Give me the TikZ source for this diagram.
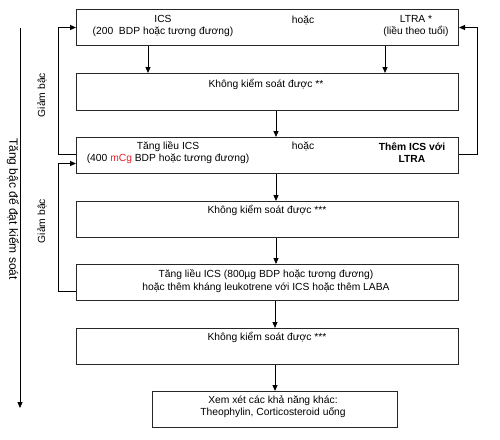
\documentclass[tikz,border=0pt]{standalone}
\usepackage{fontspec}
\setmainfont{Liberation Sans}
\usetikzlibrary{arrows.meta}
\begin{document}
\begin{tikzpicture}[x=1pt,y=-1pt,
  box/.style={draw=black!85,line width=1pt,rectangle,inner sep=0pt,anchor=north west},
  txt/.style={inner sep=0pt,align=center,font=\fontsize{10.3}{12.5}\selectfont},
  arr/.style={draw=black,line width=1pt,-{Triangle[length=6pt,width=5pt]}},
  ln/.style={draw=black!85,line width=1pt}]
\useasboundingbox (0,0) rectangle (500,439);
\fill[white] (0,0) rectangle (500,439);
% boxes
\node[box,minimum width=382pt,minimum height=36pt] (b1) at (76,9) {};
\node[box,minimum width=382pt,minimum height=37pt] (b2) at (76,73) {};
\node[box,minimum width=382pt,minimum height=36pt] (b3) at (76,137) {};
\node[box,minimum width=382pt,minimum height=36pt] (b4) at (76,201) {};
\node[box,minimum width=382pt,minimum height=36pt] (b5) at (76,264) {};
\node[box,minimum width=382pt,minimum height=36pt] (b6) at (76,328) {};
\node[box,minimum width=245pt,minimum height=36pt] (b7) at (152,391) {};
% texts
\node[txt] (t1a) at (163,26) {ICS\\(200\ \ BDP hoặc tương đương)};
\node[txt] (t1b) at (303,20) {hoặc};
\node[txt] (t1c) at (416,26) {LTRA *\\(liều theo tuổi)};
\node[txt] (t2) at (266,84) {Không kiểm soát được **};
\node[txt] (t3a) at (168,152.5) {Tăng liều ICS\\(400 \textcolor[HTML]{E8202A}{mCg} BDP hoặc tương đương)};
\node[txt] (t3b) at (303,146) {hoặc};
\node[txt,font=\fontsize{10.3}{12.5}\selectfont\bfseries] (t3c) at (412,152.5) {Thêm ICS với\\LTRA};
\node[txt] (t4) at (267,210) {Không kiểm soát được ***};
\node[txt] (t5) at (266,281) {Tăng liều ICS (800µg BDP hoặc tương đương)\\hoặc thêm kháng leukotrene với ICS hoặc thêm LABA};
\node[txt] (t6) at (267,337) {Không kiểm soát được ***};
\node[txt] (t7) at (273,406.5) {Xem xét các khả năng khác:\\Theophylin, Corticosteroid uống};
\node[txt,rotate=90] (g1) at (42,95) {Giảm bậc};
\node[txt,rotate=90] (g2) at (42,221) {Giảm bậc};
\node[txt,rotate=-90,font=\fontsize{12}{14}\selectfont] (tb) at (13,209) {Tăng bậc để đạt kiểm soát};
% down arrows
\draw[arr] ([xshift=72pt]b1.south west) -- ([xshift=72pt]b2.north west);
\draw[arr] ([xshift=309pt]b1.south west) -- ([xshift=309pt]b2.north west);
\draw[arr] ([xshift=200pt]b2.south west) -- ([xshift=200pt]b3.north west);
\draw[arr] ([xshift=200pt]b3.south west) -- ([xshift=200pt]b4.north west);
\draw[arr] ([xshift=200pt]b4.south west) -- ([xshift=200pt]b5.north west);
\draw[arr] ([xshift=199pt]b5.south west) -- ([xshift=199pt]b6.north west);
\draw[arr] (b6.south -| b7.north) -- (b7.north);
% feedback loops
\draw[arr] ([yshift=1pt]b3.west) -- ++(-18,0) |- (b1.west);
\draw[arr] ([yshift=-9pt]b5.west) -- ++(-18,0) |- ([yshift=-8pt]b3.west);
\draw[arr] ([yshift=1pt]b3.east) -- ++(18,0) |- (b1.east);
% big arrow
\coordinate (ts) at (20,28);
\coordinate (te) at (20,408);
\draw[arr] (ts) -- (te);
\end{tikzpicture}
\end{document}
